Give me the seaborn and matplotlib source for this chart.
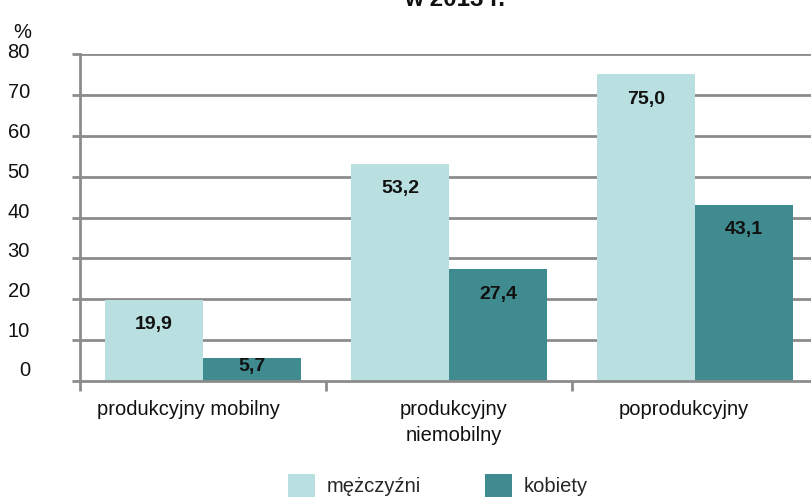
import matplotlib
matplotlib.use("Agg")
import matplotlib.pyplot as plt
import matplotlib.transforms as mtransforms
import seaborn as sns
import pandas as pd
from matplotlib.patches import Patch

categories = ["produkcyjny mobilny", "produkcyjny\nniemobilny", "poprodukcyjny"]
series = ["mężczyźni", "kobiety"]
men = [19.9, 53.2, 75.0]
women = [5.7, 27.4, 43.1]
yticks = [0, 10, 20, 30, 40, 50, 60, 70, 80]

light = "#badfe0"
dark = "#3f8b8f"
grid_c = "#8c8c8c"
txt_c = "#111111"

df = pd.DataFrame({
    "kat": categories * 2,
    "plec": [series[0]] * 3 + [series[1]] * 3,
    "val": men + women,
})

sns.set_theme(style="white")
plt.rcParams["font.family"] = ["Liberation Sans", "DejaVu Sans"]

fig = plt.figure(figsize=(8.11, 4.97), dpi=100)
ax = fig.add_axes([80 / 811, 1 - 381 / 497, (818 - 80) / 811, (381 - 54) / 497])

sns.barplot(data=df, x="kat", y="val", hue="plec", palette=[light, dark],
            width=0.795, ax=ax, legend=False, saturation=1, linewidth=0, zorder=2)

ax.set_ylim(0, 80)
ax.set_xlim(-0.5, 2.5)
ax.set_yticks(yticks)
ax.set_yticklabels([str(t) for t in yticks], fontsize=14.5, color=txt_c)
ax.set_xlabel("")
ax.set_ylabel("")
for t in yticks[1:]:
    ax.axhline(t, color=grid_c, lw=2, zorder=0)
for s in ["top", "right"]:
    ax.spines[s].set_visible(False)
for s in ["left", "bottom"]:
    ax.spines[s].set_color(grid_c)
    ax.spines[s].set_linewidth(2)
    ax.spines[s].set_zorder(3)
ax.tick_params(axis="y", length=6, width=2, color=grid_c, pad=30, left=True)
ax.tick_params(axis="x", length=0, pad=14)
ax.set_xticks([0, 1, 2])
ax.set_xticklabels(categories, fontsize=14.5, color=txt_c, va="top")
x_shift = [-15, 5, -11]
for dx, tick in zip(x_shift, ax.get_xticklabels()):
    tick.set_linespacing(1.45)
    tick.set_transform(tick.get_transform() + mtransforms.ScaledTranslation(dx / 100, 0, fig.dpi_scale_trans))
ax.set_xticks([-0.5, 0.5, 1.5], minor=True)
ax.tick_params(axis="x", which="minor", length=7, width=2, color=grid_c, bottom=True)

# y labels sit slightly above their gridlines (more so toward the bottom)
for t, lbl in zip(yticks, ax.get_yticklabels()):
    dy = (3 + (80 - t) / 80 * 9) / 100
    lbl.set_transform(lbl.get_transform() + mtransforms.ScaledTranslation(0, dy, fig.dpi_scale_trans))

for p in ax.patches:
    h = p.get_height()
    if h <= 0:
        continue
    x = p.get_x() + p.get_width() / 2
    off = 25 if h > 10 else 9
    ax.annotate(f"{h:.1f}".replace(".", ","), (x, h), xytext=(0, -off),
                textcoords="offset pixels", ha="center", va="center",
                fontsize=14, fontweight="bold", color=txt_c, zorder=4)

fig.text(22 / 811, 1 - 32 / 497, "%", fontsize=14.5, color=txt_c, ha="center", va="center")
fig.text(455 / 811, 1 - 6 / 497, "w 2013 r.", fontsize=17.5, fontweight="bold",
         ha="center", va="baseline", color=txt_c)

handles = [Patch(facecolor=light, edgecolor="none"), Patch(facecolor=dark, edgecolor="none")]
fig.legend(handles, series, loc="upper left", bbox_to_anchor=(280 / 811, 1 - 466 / 497),
           ncol=2, frameon=False, fontsize=14.5, handlelength=1.35, handleheight=1.35,
           columnspacing=3.2, handletextpad=0.55, borderaxespad=0)

fig.savefig("out.png", dpi=100)
